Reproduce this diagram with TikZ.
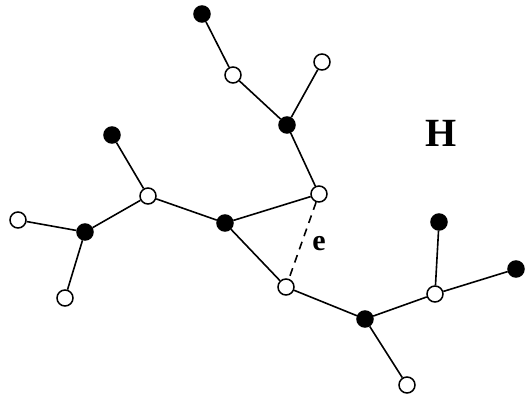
\documentclass[tikz,border=0pt]{standalone}
\usepackage{fontspec}
\setmainfont{Liberation Serif}
\tikzset{
  vtx/.style={circle, draw, line width=1.5pt, minimum size=16pt, inner sep=0pt},
  wvtx/.style={vtx, fill=white},
  bvtx/.style={vtx, fill=black},
  edg/.style={line width=1.6pt},
}
\begin{document}
\begin{tikzpicture}[x=1pt, y=-1pt]
  \useasboundingbox (0,0) rectangle (527,398);
  % upper branch
  \node[bvtx] (b1) at (202,14) {};
  \node[wvtx] (w1) at (233,75) {};
  \node[wvtx] (w2) at (322,62) {};
  \node[bvtx] (b2) at (287,125) {};
  \node[wvtx] (w3) at (319,194) {};
  % middle and left branch
  \node[bvtx] (b3) at (225,223) {};
  \node[wvtx] (w4) at (148,196) {};
  \node[bvtx] (b4) at (112,135) {};
  \node[bvtx] (b5) at (85,232) {};
  \node[wvtx] (w5) at (18,220) {};
  \node[wvtx] (w6) at (65,298) {};
  % lower right branch
  \node[wvtx] (w7) at (286,287) {};
  \node[bvtx] (b6) at (365,319) {};
  \node[wvtx] (w8) at (407,385) {};
  \node[wvtx] (w9) at (435,294) {};
  \node[bvtx] (b7) at (439,222) {};
  \node[bvtx] (b8) at (516,269) {};
  % labels
  \node[font=\fontsize{40}{40}\selectfont\bfseries] (hlab) at (441,133) {H};
  \node[font=\fontsize{30}{30}\selectfont\bfseries] (elab) at (319,244) {e};
  % tree edges
  \draw[edg] (b1) -- (w1);
  \draw[edg] (w1) -- (b2);
  \draw[edg] (w2) -- (b2);
  \draw[edg] (b2) -- (w3);
  \draw[edg] (w3) -- (b3);
  \draw[edg] (b3) -- (w4);
  \draw[edg] (w4) -- (b4);
  \draw[edg] (w4) -- (b5);
  \draw[edg] (b5) -- (w5);
  \draw[edg] (b5) -- (w6);
  \draw[edg] (b3) -- (w7);
  \draw[edg] (w7) -- (b6);
  \draw[edg] (b6) -- (w8);
  \draw[edg] (b6) -- (w9);
  \draw[edg] (w9) -- (b7);
  \draw[edg] (w9) -- (b8);
  % the extra edge e
  \draw[edg, dash pattern=on 8pt off 6pt] (w3) -- (w7);
\end{tikzpicture}
\end{document}
